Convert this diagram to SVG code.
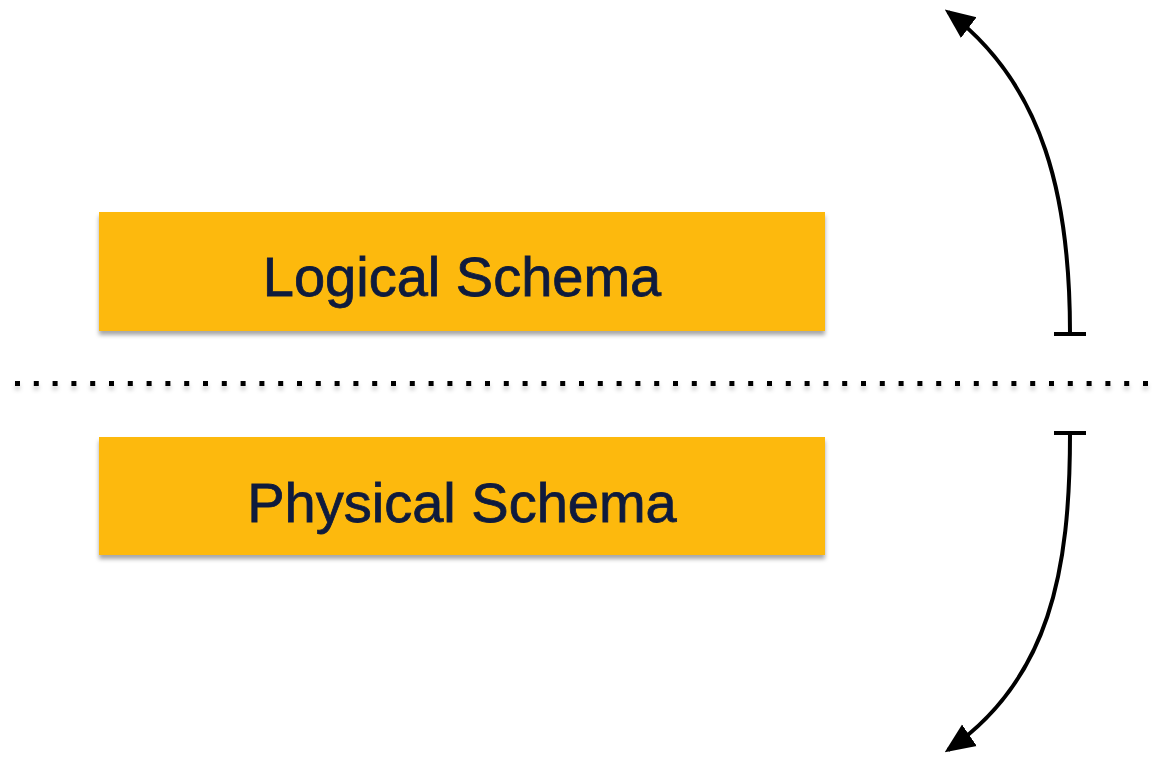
<svg xmlns="http://www.w3.org/2000/svg" width="1157" height="761" viewBox="0 0 1157 761">
<defs>
<style>
.box{fill:#FDB90A;filter:url(#sh);}
.lbl{font-family:"Liberation Sans",Arial,sans-serif;font-size:56px;fill:#0F1B3D;stroke:#0F1B3D;stroke-width:0.8;text-anchor:middle;}
.arc{fill:none;stroke:#000;stroke-width:4;}
.bar{stroke:#000;stroke-width:4;}
</style>
<filter id="sh" x="-5%" y="-20%" width="110%" height="150%">
<feDropShadow dx="0" dy="4" stdDeviation="2" flood-color="#000" flood-opacity="0.35"/>
</filter>
<filter id="sh2" filterUnits="userSpaceOnUse" x="0" y="370" width="1157" height="30">
<feDropShadow dx="0" dy="4" stdDeviation="2" flood-color="#000" flood-opacity="0.2"/>
</filter>
<marker id="ah2" viewBox="0 0 30 30" refX="26" refY="15" markerWidth="30" markerHeight="30" orient="auto" markerUnits="userSpaceOnUse">
<path d="M0,2 L30,15 L0,28 z" fill="#000"/>
</marker>
</defs>
<rect width="1157" height="761" fill="#fff"/>
<g id="logical">
<rect class="box" x="99" y="212" width="726" height="119"/>
<text class="lbl" x="462" y="296">Logical Schema</text>
</g>
<g id="physical">
<rect class="box" x="99" y="437" width="726" height="118"/>
<text class="lbl" x="462" y="522">Physical Schema</text>
</g>
<g id="divider">
<line x1="15" y1="383.5" x2="1157" y2="383.5" stroke="#000" stroke-width="5" stroke-dasharray="5 13.8" filter="url(#sh2)"/>
</g>
<g id="connectors">
<path class="arc" d="M1070,333 C1070,200 1045,85 948,12" marker-end="url(#ah2)"/>
<line class="bar" x1="1054" y1="334" x2="1086" y2="334"/>
<path class="arc" d="M1070,434 C1070,570 1050,680 948,750" marker-end="url(#ah2)"/>
<line class="bar" x1="1054" y1="433" x2="1086" y2="433"/>
</g>
</svg>
